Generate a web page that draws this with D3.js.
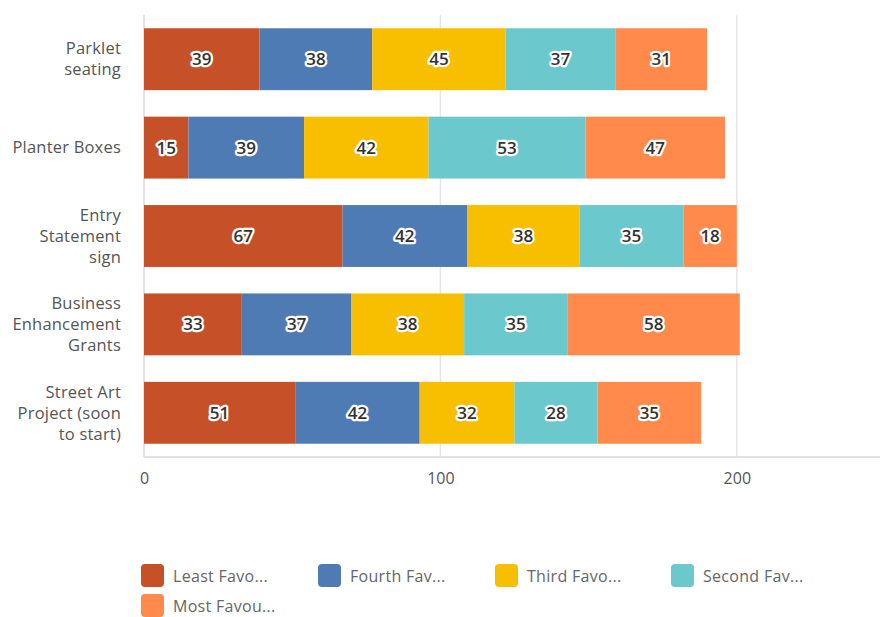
<!DOCTYPE html>
<html lang="en">
<head>
<meta charset="UTF-8">
<title>Favourite projects</title>
<style>
  body { margin: 0; background: #fff; font-family: "Open Sans", Roboto, Arial, sans-serif; }
  .cat { fill: #555; font-size: 16.5px; letter-spacing: 0.2px; }
  .val { fill: #333; font-size: 17px; font-weight: 600; stroke: #fff; stroke-width: 4.5px; paint-order: stroke; stroke-linejoin: round; }
  .tick text { fill: #555; font-size: 16px; font-family: "Open Sans", Roboto, Arial, sans-serif; }
  .leg { fill: #666; font-size: 16px; letter-spacing: 0.3px; }
</style>
</head>
<body>
<svg id="chart" width="880" height="617"></svg>
<script src="https://d3js.org/d3.v7.min.js"></script>
<script>
// categories (each split into display lines)
const categories = ['Parklet seating', 'Planter Boxes', 'Entry Statement sign', 'Business Enhancement Grants', 'Street Art Project (soon to start)'];
const catLines = [['Parklet', 'seating'], ['Planter Boxes'], ['Entry', 'Statement', 'sign'], ['Business', 'Enhancement', 'Grants'], ['Street Art', 'Project (soon', 'to start)']];
const seriesNames = ['Least Favo...', 'Fourth Fav...', 'Third Favo...', 'Second Fav...', 'Most Favou...'];
const colors = ['#c65128', '#4f7bb5', '#f8be00', '#6bc8cc', '#ff8a4c'];
const leastFav  = [39, 15, 67, 33, 51];
const fourthFav = [38, 39, 42, 37, 42];
const thirdFav  = [45, 42, 38, 38, 32];
const secondFav = [37, 53, 35, 35, 28];
const mostFav   = [31, 47, 18, 58, 35];
const xTicks = [0, 100, 200];

const series = [leastFav, fourthFav, thirdFav, secondFav, mostFav];
const rows = categories.map((c, i) => {
  const r = { cat: c };
  seriesNames.forEach((s, j) => r[s] = series[j][i]);
  return r;
});
const stacked = d3.stack().keys(seriesNames)(rows);

const svg = d3.select('#chart');
const x = d3.scaleLinear().domain([0, 250]).range([144, 885]);
const y = d3.scaleBand().domain(categories).range([15, 457]).paddingInner(0.3).paddingOuter(0.15);

// grid lines
svg.append('g').selectAll('line').data(xTicks.slice(1)).join('line')
  .attr('x1', d => x(d)).attr('x2', d => x(d))
  .attr('y1', 15).attr('y2', 457)
  .attr('stroke', '#e6e6e6').attr('stroke-width', 1.5);

// left and bottom axis lines
svg.append('line').attr('x1', x(0)).attr('x2', x(0)).attr('y1', 15).attr('y2', 457)
  .attr('stroke', '#d9d9d9').attr('stroke-width', 1.5);
svg.append('line').attr('x1', x(0)).attr('x2', 880).attr('y1', 457).attr('y2', 457)
  .attr('stroke', '#d9d9d9').attr('stroke-width', 1.5);

// x tick labels
const xAxis = svg.append('g').attr('transform', 'translate(0,467)')
  .call(d3.axisBottom(x).tickValues(xTicks).tickSize(0).tickPadding(6));
xAxis.select('.domain').remove();

// bars
const layer = svg.append('g').selectAll('g').data(stacked).join('g')
  .attr('fill', (d, i) => colors[i]);
layer.selectAll('rect').data(d => d).join('rect')
  .attr('x', d => x(d[0]))
  .attr('width', d => x(d[1]) - x(d[0]))
  .attr('y', d => y(d.data.cat))
  .attr('height', y.bandwidth());

// value labels
svg.append('g').selectAll('g').data(stacked).join('g')
  .selectAll('text').data(d => d).join('text')
  .attr('class', 'val')
  .attr('x', d => (x(d[0]) + x(d[1])) / 2)
  .attr('y', d => y(d.data.cat) + y.bandwidth() / 2)
  .attr('dy', '0.35em')
  .attr('text-anchor', 'middle')
  .text(d => d[1] - d[0]);

// category labels
const cl = svg.append('g').selectAll('text').data(categories).join('text')
  .attr('class', 'cat')
  .attr('text-anchor', 'end')
  .attr('x', 121)
  .attr('y', (d, i) => y(d) + y.bandwidth() / 2 - (catLines[i].length - 1) * 10.5);
cl.selectAll('tspan').data((d, i) => catLines[i]).join('tspan')
  .attr('x', 121)
  .attr('dy', (d, j) => j === 0 ? '0.35em' : 21)
  .text(d => d);

// legend
const legPos = [[141, 564], [318, 564], [495, 564], [671, 564], [141, 594]];
const leg = svg.append('g').selectAll('g').data(seriesNames).join('g')
  .attr('transform', (d, i) => `translate(${legPos[i][0]},${legPos[i][1]})`);
leg.append('rect').attr('width', 23).attr('height', 23).attr('rx', 4)
  .attr('fill', (d, i) => colors[i]);
leg.append('text').attr('class', 'leg').attr('x', 32).attr('y', 12).attr('dy', '0.35em')
  .text(d => d);
</script>
</body>
</html>
